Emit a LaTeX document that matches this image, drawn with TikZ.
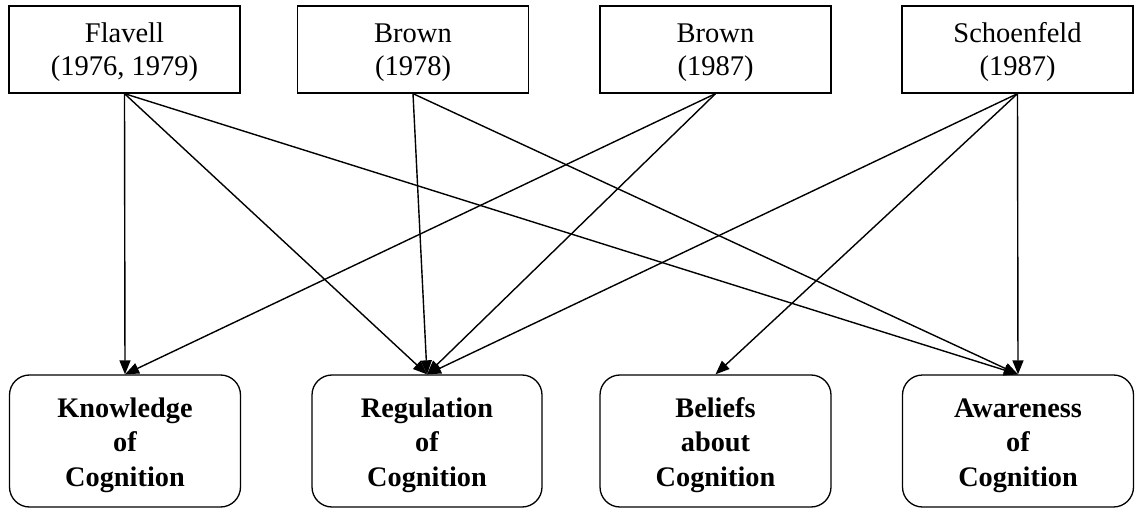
\documentclass[tikz,border=0pt]{standalone}
\usepackage{fontspec}
\setmainfont{Liberation Serif}
\usetikzlibrary{arrows.meta}
\newcommand{\topstrut}{\rule{0pt}{25.5pt}}
\newcommand{\botstrut}{\rule{0pt}{27.5pt}}
\tikzset{
  srcbox/.style={draw, line width=1.3pt, minimum width=231pt, minimum height=87pt, align=center, inner sep=0pt,
    font=\fontsize{28.5}{33}\selectfont},
  tgtbox/.style={draw, line width=1.3pt, rounded corners=20pt, minimum width=231pt, minimum height=132pt, align=center, inner sep=0pt,
    font=\fontsize{28.3}{34.5}\selectfont\bfseries},
  arr/.style={draw, line width=1.4pt, -{Triangle[length=14pt,width=11pt]}}
}
\begin{document}
\begin{tikzpicture}[x=1pt,y=-1pt]
\useasboundingbox (0,0) rectangle (1136,508);
\node[srcbox] (fl) at (124.5,49.5) {\topstrut Flavell\\(1976, 1979)};
\node[srcbox] (b78) at (413,49.5) {\topstrut Brown\\(1978)};
\node[srcbox] (b87) at (715.5,49.5) {\topstrut Brown\\(1987)};
\node[srcbox] (sch) at (1017.5,49.5) {\topstrut Schoenfeld\\(1987)};
\node[tgtbox] (kn) at (125,441) {\botstrut Knowledge\\of\\Cognition};
\node[tgtbox, minimum width=230pt] (reg) at (427,441) {\botstrut Regulation\\of\\Cognition};
\node[tgtbox] (bel) at (715.5,441) {\botstrut Beliefs\\about\\Cognition};
\node[tgtbox] (aw) at (1018,441) {\botstrut Awareness\\of\\Cognition};
\draw[arr] (fl.south) -- (kn.north);
\draw[arr] (fl.south) -- (reg.north);
\draw[arr] (fl.south) -- (aw.north);
\draw[arr] (b78.south) -- (reg.north);
\draw[arr] (b78.south) -- (aw.north);
\draw[arr] (b87.south) -- (kn.north);
\draw[arr] (b87.south) -- (reg.north);
\draw[arr] (sch.south) -- (reg.north);
\draw[arr] (sch.south) -- (bel.north);
\draw[arr] (sch.south) -- (aw.north);
\end{tikzpicture}
\end{document}
